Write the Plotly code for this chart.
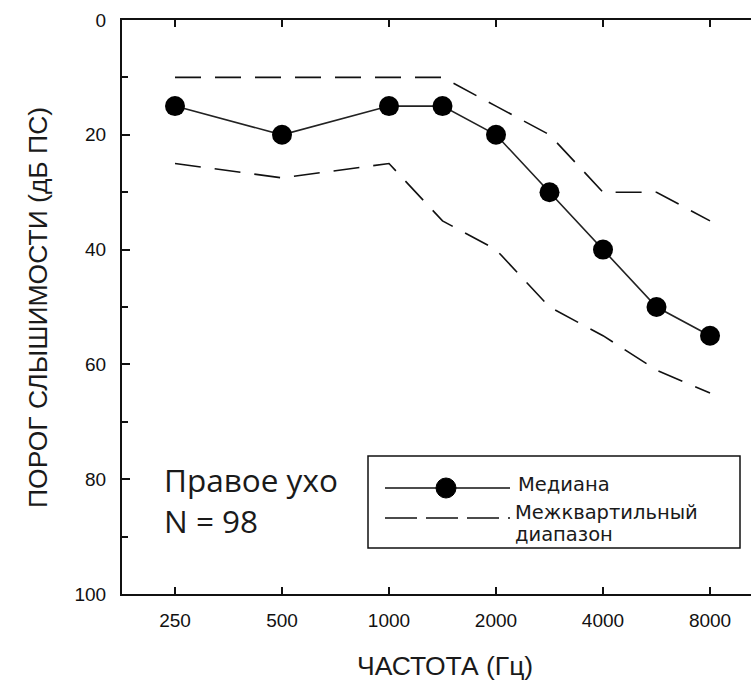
import plotly.graph_objects as go

# ---- data ----
freq_labels = ["250", "500", "1000", "1500", "2000", "3000", "4000", "6000", "8000"]
freq_pos = [0, 1, 2, 2.5, 3, 3.5, 4, 4.5, 5]          # half-octave spacing on the audiogram
median_db = [15, 20, 15, 15, 20, 30, 40, 50, 55]
q_upper_db = [10, 10, 10, 10, 15, 20, 30, 30, 35]     # 25th percentile (better hearing)
q_lower_db = [25, 27.5, 25, 35, 40, 50, 55, 61, 65]   # 75th percentile
tick_pos = [0, 1, 2, 3, 4, 5]
tick_text = ["250", "500", "1000", "2000", "4000", "8000"]
y_ticks = [0, 20, 40, 60, 80, 100]

W, H = 751, 681
ML, MR, MT, MB = 122, 0, 20, 87
PW, PH = W - ML - MR, H - MT - MB


def px(x):
    return (x - ML) / PW


def py(y):
    return (H - MB - y) / PH


fig = go.Figure()
dash = "26px,14px"
for ys in (q_upper_db, q_lower_db):
    fig.add_trace(go.Scatter(x=freq_pos, y=ys, mode="lines",
                             line=dict(color="#111", width=1.6, dash=dash),
                             showlegend=False, hoverinfo="skip"))
fig.add_trace(go.Scatter(x=freq_pos, y=median_db, mode="lines+markers",
                         line=dict(color="#222", width=1.6),
                         marker=dict(size=20, color="black"),
                         showlegend=False))

axis_font = dict(family="Liberation Sans, Arial", size=19, color="#111")
title_font = dict(family="Liberation Sans, Arial", size=26.5, color="#1a1a1a")
fig.update_xaxes(range=[-0.4953, 5.383], tickvals=tick_pos, ticktext=tick_text,
                 ticks="inside", ticklen=7, tickwidth=1.5, tickcolor="#111",
                 showline=True, linecolor="#111", linewidth=2, mirror="ticks",
                 showgrid=False, zeroline=False, tickfont=axis_font,
                 ticklabelstandoff=8)
fig.update_yaxes(range=[100, 0], tickvals=y_ticks,
                 ticks="inside", ticklen=8, tickwidth=1.5, tickcolor="#111",
                 minor=dict(dtick=10, ticks="inside", ticklen=6, tickwidth=1.5, tickcolor="#111"),
                 showline=True, linecolor="#111", linewidth=2,
                 showgrid=False, zeroline=False, tickfont=axis_font,
                 ticklabelstandoff=10)

# custom legend
shapes = [
    dict(type="rect", xref="paper", yref="paper", x0=px(368), x1=px(740), y0=py(548), y1=py(456),
         line=dict(color="#111", width=1.5), fillcolor="white"),
    dict(type="line", xref="paper", yref="paper", x0=px(385), x1=px(510), y0=py(488), y1=py(488),
         line=dict(color="#111", width=1.6)),
    dict(type="circle", xref="paper", yref="paper", x0=px(436), x1=px(456), y0=py(498), y1=py(478),
         line=dict(color="black", width=1), fillcolor="black"),
    dict(type="line", xref="paper", yref="paper", x0=px(385), x1=px(510), y0=py(518), y1=py(518),
         line=dict(color="#111", width=1.6, dash="32px,9px")),
]
legend_font = dict(family="DejaVu Sans, Verdana", size=19.5, color="#1a1a1a")
annotations = [
    dict(text="Медиана", xref="paper", yref="paper", x=px(516), y=py(484), xanchor="left", yanchor="middle",
         showarrow=False, font=legend_font),
    dict(text="Межквартильный", xref="paper", yref="paper", x=px(513), y=py(512),
         xanchor="left", yanchor="middle", showarrow=False, font=legend_font),
    dict(text="диапазон", xref="paper", yref="paper", x=px(513), y=py(534),
         xanchor="left", yanchor="middle", showarrow=False, font=legend_font),
    dict(text="Правое ухо<br>N = 98", xref="paper", yref="paper", x=px(162), y=py(456),
         xanchor="left", yanchor="top", align="left", showarrow=False,
         font=dict(family="Open Sans, Noto Sans", size=31.5, color="#1a1a1a")),
    dict(text="ЧАСТОТА (Гц)", xref="paper", yref="paper", x=px(445), y=py(666),
         xanchor="center", yanchor="middle", showarrow=False, font=title_font),
    dict(text="ПОРОГ СЛЫШИМОСТИ (дБ ПС)", xref="paper", yref="paper", x=px(38), y=py(308),
         xanchor="center", yanchor="middle", textangle=-90, showarrow=False, font=title_font),
]

fig.update_layout(width=W, height=H, margin=dict(l=ML, r=MR, t=MT, b=MB),
                  plot_bgcolor="white", paper_bgcolor="white",
                  shapes=shapes, annotations=annotations, showlegend=False)
fig.write_html("out.html")
